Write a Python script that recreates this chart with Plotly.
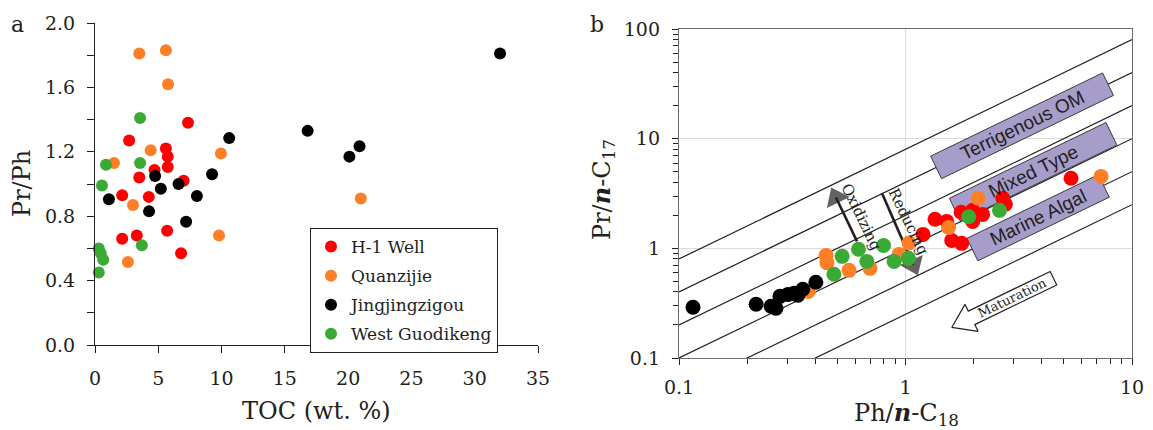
import math
import plotly.graph_objects as go

W, H = 1153, 430
INK = "#231f20"
SERIF = "DejaVu Serif"
SANS = "Liberation Sans"

SERIES = ["H-1 Well", "Quanzijie", "Jingjingzigou", "West Guodikeng"]
COLORS = ["#ff0000", "#ff7f27", "#000000", "#3aaa35"]

# ---- panel a: Pr/Ph against TOC (wt. %) ----
a_h1_toc = [7.35, 2.7, 5.6, 5.75, 5.75, 4.7, 3.5, 7.0, 2.15, 4.25, 2.15, 3.3, 5.7, 6.8]
a_h1_prph = [1.38, 1.27, 1.22, 1.17, 1.105, 1.087, 1.04, 1.02, 0.93, 0.92, 0.66, 0.68, 0.71, 0.57]

a_qz_toc = [3.5, 5.6, 5.77, 4.4, 1.5, 9.95, 3.0, 2.6, 9.8, 21.0]
a_qz_prph = [1.81, 1.83, 1.62, 1.21, 1.13, 1.19, 0.87, 0.515, 0.68, 0.91]

a_jj_toc = [10.6, 9.25, 4.75, 6.6, 5.2, 8.05, 1.1, 4.27, 7.2, 32.0, 16.8, 20.9, 20.1]
a_jj_prph = [1.285, 1.06, 1.05, 1.0, 0.97, 0.925, 0.905, 0.83, 0.765, 1.81, 1.33, 1.235, 1.17]

a_wg_toc = [3.56, 0.87, 3.56, 0.55, 0.3, 0.45, 0.65, 0.3, 3.7]
a_wg_prph = [1.41, 1.12, 1.13, 0.99, 0.60, 0.57, 0.53, 0.45, 0.62]

# ---- panel b: Pr/n-C17 against Ph/n-C18 ----
b_h1_ph = [1.195, 1.35, 1.52, 1.60, 1.77, 1.76, 1.98, 2.19, 1.98, 2.69, 2.76, 5.38]
b_h1_pr = [1.34, 1.84, 1.76, 1.18, 1.11, 2.13, 2.22, 2.04, 1.76, 2.86, 2.52, 4.35]

b_qz_ph = [0.372, 0.446, 0.45, 0.563, 0.697, 0.936, 1.036, 1.55, 2.09, 7.3]
b_qz_pr = [0.405, 0.86, 0.74, 0.63, 0.657, 0.88, 1.12, 1.55, 2.86, 4.53]

b_wg_ph = [0.483, 0.525, 0.62, 0.675, 0.80, 0.89, 1.03, 1.9, 2.6]
b_wg_pr = [0.58, 0.845, 0.98, 0.76, 1.06, 0.76, 0.81, 1.94, 2.22]

b_jj_ph = [0.1153, 0.219, 0.255, 0.268, 0.279, 0.303, 0.322, 0.335, 0.352, 0.402]
b_jj_pr = [0.29, 0.309, 0.296, 0.284, 0.365, 0.38, 0.39, 0.373, 0.423, 0.49]

# constant Pr/n-C17 : Ph/n-C18 ratio guide lines
ratio_lines = [8, 4, 2, 1, 0.5, 0.25]

# ---- layout geometry ----
XA_DOM = [95 / W, 538 / W]
YA_DOM = [1 - 345 / H, 1 - 23 / H]
XB_DOM = [679 / W, 1132 / W]
YB_DOM = [1 - 358 / H, 1 - 29 / H]

XB_PX = (XB_DOM[1] - XB_DOM[0]) * W / 2   # pixels per decade, panel b x
YB_PX = (YB_DOM[1] - YB_DOM[0]) * H / 3   # pixels per decade, panel b y
THETA = math.atan(YB_PX / XB_PX)          # on-screen slope of the ratio lines
ANGLE = math.degrees(THETA)
CA, SA = math.cos(THETA), math.sin(THETA)


def shift(x, y, dx, dy):
    """Offset a panel-b data point by dx, dy screen pixels (dy downward)."""
    return x * 10 ** (dx / XB_PX), y * 10 ** (-dy / YB_PX)


def local(x, y, s, t):
    """Offset along the ratio lines (s, up-right) and across them (t, down-right)."""
    return shift(x, y, s * CA + t * SA, -s * SA + t * CA)


def band_box(cx, cy, length, thick):
    pts = [local(cx, cy, s * length / 2, t * thick / 2)
           for s, t in [(-1, -1), (1, -1), (1, 1), (-1, 1), (-1, -1)]]
    return [p[0] for p in pts], [p[1] for p in pts]


def hollow_arrow(tx, ty, length, head_len, head_w, shaft_w):
    loc = [(0, 0), (head_len, -head_w / 2), (head_len, -shaft_w / 2),
           (length, -shaft_w / 2), (length, shaft_w / 2), (head_len, shaft_w / 2),
           (head_len, head_w / 2), (0, 0)]
    pts = [local(tx, ty, s, t) for s, t in loc]
    return [p[0] for p in pts], [p[1] for p in pts]


fig = go.Figure()

# panel a scatter
for name, col, xs, ys in zip(
        SERIES, COLORS,
        [a_h1_toc, a_qz_toc, a_jj_toc, a_wg_toc],
        [a_h1_prph, a_qz_prph, a_jj_prph, a_wg_prph]):
    fig.add_trace(go.Scatter(
        x=xs, y=ys, mode="markers", name=name, legendgroup=name,
        marker=dict(size=12, color=col, line=dict(width=0)),
        cliponaxis=False, xaxis="x", yaxis="y"))

# panel b guide lines
for k in ratio_lines:
    fig.add_trace(go.Scatter(
        x=[0.1, 10], y=[k * 0.1, k * 10], mode="lines",
        line=dict(color=INK, width=1.2), showlegend=False, hoverinfo="skip",
        xaxis="x2", yaxis="y2"))

# organic matter type bands
bands = [
    ("Terrigenous OM", 3.27, 13.1, 191),
    ("Mixed Type", 3.66, 5.0, 174),
    ("Marine Algal", 3.85, 1.9, 146),
]
for label, cx, cy, length in bands:
    bx, by = band_box(cx, cy, length, 25)
    fig.add_trace(go.Scatter(
        x=bx, y=by, mode="lines", fill="toself", fillcolor="#a79dcb",
        line=dict(color="#3a3a3a", width=1), showlegend=False, hoverinfo="skip",
        xaxis="x2", yaxis="y2"))
    fig.add_annotation(
        x=math.log10(cx), y=math.log10(cy), xref="x2", yref="y2",
        text=label, showarrow=False, textangle=-ANGLE,
        font=dict(family=SANS, size=19, color=INK))

# maturation arrow
MAT_TIP = (1.6, 0.19)
mx, my = hollow_arrow(*MAT_TIP, length=113, head_len=22, head_w=30, shaft_w=15)
fig.add_trace(go.Scatter(
    x=mx, y=my, mode="lines", fill="toself", fillcolor="white",
    line=dict(color=INK, width=1.2), showlegend=False, hoverinfo="skip",
    xaxis="x2", yaxis="y2"))
mtx, mty = local(*MAT_TIP, 68, 0)
fig.add_annotation(
    x=math.log10(mtx), y=math.log10(mty), xref="x2", yref="y2",
    text="Maturation", showarrow=False, textangle=-ANGLE,
    font=dict(family=SERIF, size=13, color=INK))

# redox arrows: a shaft ending in a triangle that follows the shaft direction
for label, tip, tail_off, text_pos in [
        ("Oxidizing", (0.474, 3.45), (25, 52), (0.637, 1.92)),
        ("Reducing", (1.124, 0.592), (-35, -80), (1.03, 1.73))]:
    tail = shift(*tip, *tail_off)
    norm = math.hypot(*tail_off)
    back = 9  # triangle centre sits a little behind the tip
    head = shift(*tip, tail_off[0] / norm * back, tail_off[1] / norm * back)
    fig.add_trace(go.Scatter(
        x=[tail[0], head[0]], y=[tail[1], head[1]], mode="lines+markers",
        line=dict(color=INK, width=2.6),
        marker=dict(symbol="triangle-up", size=[0, 22], color=INK,
                    angleref="previous", line=dict(width=0)),
        showlegend=False, hoverinfo="skip", xaxis="x2", yaxis="y2"))
    fig.add_annotation(
        x=math.log10(text_pos[0]), y=math.log10(text_pos[1]), xref="x2", yref="y2",
        text=label, showarrow=False, textangle=90 - ANGLE,
        font=dict(family=SERIF, size=15, color=INK))

# panel b scatter
for name, col, xs, ys in [
        (SERIES[0], COLORS[0], b_h1_ph, b_h1_pr),
        (SERIES[1], COLORS[1], b_qz_ph, b_qz_pr),
        (SERIES[3], COLORS[3], b_wg_ph, b_wg_pr),
        (SERIES[2], COLORS[2], b_jj_ph, b_jj_pr)]:
    fig.add_trace(go.Scatter(
        x=xs, y=ys, mode="markers", name=name, legendgroup=name, showlegend=False,
        marker=dict(size=15, color=col, line=dict(width=0)),
        cliponaxis=False, xaxis="x2", yaxis="y2"))

tick_font = dict(family=SERIF, size=19, color=INK)

# panel labels and axis titles
for text, x, y, angle in [
        ("a", 17, 25, 0), ("b", 597, 25, 0),
        ("TOC (wt. %)", 316, 411, 0),
        ("Pr/Ph", 22, 184, -90),
        ("Ph/<b><i>n</i></b>-C<sub>18</sub>", 906, 414, 0),
        ("Pr/<b><i>n</i></b>-C<sub>17</sub>", 603, 190, -90)]:
    fig.add_annotation(
        x=x / W, y=1 - y / H, xref="paper", yref="paper", text=text,
        showarrow=False, textangle=angle, xanchor="center", yanchor="middle",
        font=dict(family=SERIF, size=22 if len(text) == 1 else 24, color=INK))

b_minor = [m * 10 ** e for e in (-1, 0, 1) for m in range(2, 10)]

fig.update_layout(
    width=W, height=H,
    margin=dict(l=0, r=0, t=0, b=0, autoexpand=False),
    paper_bgcolor="white", plot_bgcolor="white",
    showlegend=True,
    legend=dict(
        x=310 / W, y=1 - 228 / H, xanchor="left", yanchor="top",
        bgcolor="white", bordercolor=INK, borderwidth=1,
        font=dict(family=SERIF, size=17, color=INK),
        traceorder="grouped", tracegroupgap=4, itemwidth=30),
    xaxis=dict(
        domain=XA_DOM, range=[0, 35], tick0=0, dtick=5, automargin=False,
        ticks="outside", ticklen=7, tickcolor=INK, tickwidth=1.2,
        showline=True, linecolor=INK, linewidth=1.2,
        showgrid=False, zeroline=False, tickfont=tick_font,
        ticklabelstandoff=9, anchor="y"),
    yaxis=dict(
        domain=YA_DOM, range=[0, 2], tick0=0, dtick=0.4, tickformat=".1f",
        automargin=False,
        ticks="outside", ticklen=7, tickcolor=INK, tickwidth=1.2,
        minor=dict(dtick=0.2, ticks="outside", ticklen=7, tickcolor=INK, showgrid=False),
        showline=True, linecolor=INK, linewidth=1.2,
        showgrid=False, zeroline=False, tickfont=tick_font,
        ticklabelstandoff=8, anchor="x"),
    xaxis2=dict(
        domain=XB_DOM, type="log", range=[-1, 1], automargin=False,
        tickvals=[0.1, 1, 10], ticktext=["0.1", "1", "10"],
        ticks="outside", ticklen=6, tickcolor=INK,
        minor=dict(tickvals=b_minor, ticks="outside", ticklen=5, tickcolor=INK, showgrid=False),
        showline=True, linecolor="#6e6e6e", linewidth=1.3, mirror=True,
        showgrid=True, gridcolor="#dcdcdc", gridwidth=1, zeroline=False,
        tickfont=tick_font, ticklabelstandoff=6, anchor="y2"),
    yaxis2=dict(
        domain=YB_DOM, type="log", range=[-1, 2], automargin=False,
        tickvals=[0.1, 1, 10, 100], ticktext=["0.1", "1", "10", "100"],
        ticks="outside", ticklen=6, tickcolor=INK,
        minor=dict(tickvals=b_minor + [20, 30, 40, 50, 60, 70, 80, 90],
                   ticks="outside", ticklen=5, tickcolor=INK, showgrid=False),
        showline=True, linecolor="#6e6e6e", linewidth=1.3, mirror=True,
        showgrid=True, gridcolor="#dcdcdc", gridwidth=1, zeroline=False,
        tickfont=tick_font, ticklabelstandoff=8, anchor="x2"),
)

fig.write_html("out.html")
